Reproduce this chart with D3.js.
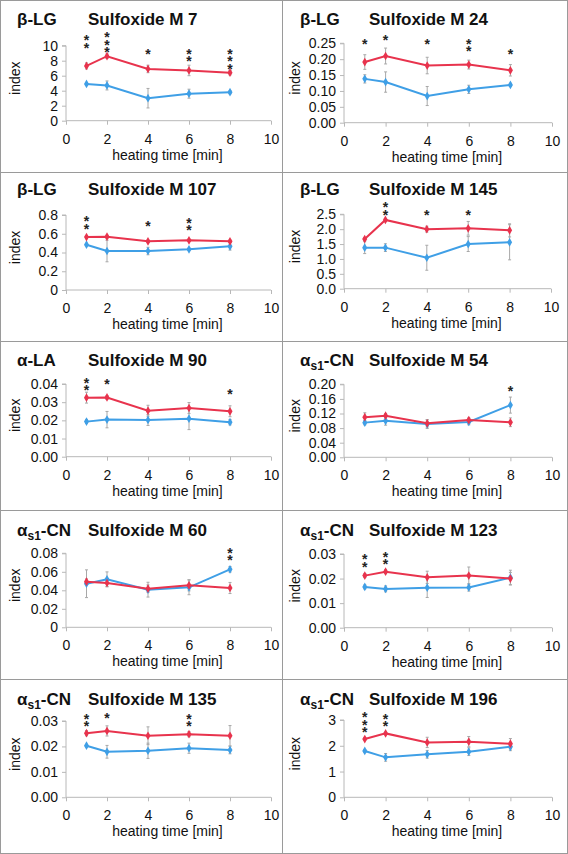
<!DOCTYPE html>
<html><head><meta charset="utf-8">
<script src="https://cdn.jsdelivr.net/npm/d3@7"></script>
<style>
html,body{margin:0;padding:0;background:#fff;}
text{font-family:"Liberation Sans",Arial,sans-serif;}
.stars{writing-mode:vertical-rl;text-orientation:upright;}
</style></head>
<body><svg id="c" width="568" height="854"></svg>
<script>
// ---------- DATA ----------
const times = [1, 2, 4, 6, 8];
const proteins = ["β-LG","β-LG","β-LG","β-LG","α-LA","αs1-CN","αs1-CN","αs1-CN","αs1-CN","αs1-CN"];
const compounds = ["Sulfoxide M 7","Sulfoxide M 24","Sulfoxide M 107","Sulfoxide M 145","Sulfoxide M 90",
  "Sulfoxide M 54","Sulfoxide M 60","Sulfoxide M 123","Sulfoxide M 135","Sulfoxide M 196"];
const yTickLabels = [
  ["0","2","4","6","8","10"],
  ["0.00","0.05","0.10","0.15","0.20","0.25"],
  ["0","0.2","0.4","0.6","0.8"],
  ["0.0","0.5","1.0","1.5","2.0","2.5"],
  ["0.00","0.01","0.02","0.03","0.04"],
  ["0.00","0.04","0.08","0.12","0.16","0.20"],
  ["0","0.02","0.04","0.06","0.08"],
  ["0.00","0.01","0.02","0.03"],
  ["0.00","0.01","0.02","0.03"],
  ["0","1","2","3"]
];
const xTickLabels = ["0","2","4","6","8","10"];
const redValues = [
  [7.3, 8.6, 6.9, 6.7, 6.4],
  [0.191, 0.210, 0.180, 0.183, 0.165],
  [0.565, 0.569, 0.519, 0.530, 0.519],
  [1.67, 2.31, 2.00, 2.03, 1.96],
  [0.0325, 0.0326, 0.0253, 0.0268, 0.0250],
  [0.110, 0.114, 0.093, 0.102, 0.096],
  [0.0493, 0.0479, 0.0418, 0.0454, 0.0425],
  [0.0212, 0.0228, 0.0205, 0.0212, 0.0200],
  [0.0252, 0.0261, 0.0242, 0.0248, 0.0242],
  [2.26, 2.48, 2.13, 2.16, 2.08]
];
const redErrors = [
  [0.4, 0.3, 0.5, 0.7, 0.3],
  [0.023, 0.025, 0.026, 0.014, 0.018],
  [0.015, 0.015, 0.012, 0.012, 0.012],
  [0.05, 0.05, 0.1, 0.23, 0.22],
  [0.003, 0.001, 0.003, 0.003, 0.003],
  [0.012, 0.006, 0.01, 0.006, 0.012],
  [0.003, 0.004, 0.004, 0.006, 0.006],
  [0.0008, 0.0008, 0.0025, 0.0035, 0.0025],
  [0.001, 0.002, 0.0035, 0.001, 0.004],
  [0.05, 0.05, 0.2, 0.2, 0.2]
];
const blueValues = [
  [4.9, 4.7, 3.0, 3.6, 3.8],
  [0.138, 0.128, 0.084, 0.105, 0.119],
  [0.483, 0.416, 0.416, 0.434, 0.466],
  [1.38, 1.38, 1.04, 1.50, 1.56],
  [0.0193, 0.0204, 0.0202, 0.0209, 0.0190],
  [0.095, 0.100, 0.091, 0.097, 0.143],
  [0.0471, 0.0519, 0.0407, 0.0432, 0.0627],
  [0.0166, 0.0158, 0.0163, 0.0164, 0.0204],
  [0.0203, 0.0179, 0.0183, 0.0193, 0.0186],
  [1.80, 1.55, 1.67, 1.77, 1.96]
];
const blueErrors = [
  [0.2, 0.6, 1.3, 0.6, 0.2],
  [0.013, 0.032, 0.030, 0.013, 0.005],
  [0.01, 0.115, 0.04, 0.01, 0.04],
  [0.2, 0.13, 0.42, 0.25, 0.59],
  [0.001, 0.0045, 0.003, 0.006, 0.0015],
  [0.006, 0.012, 0.012, 0.008, 0.022],
  [0.015, 0.008, 0.008, 0.008, 0.003],
  [0.0008, 0.0012, 0.004, 0.0015, 0.003],
  [0.0005, 0.0025, 0.003, 0.002, 0.0015],
  [0.05, 0.15, 0.15, 0.15, 0.15]
];
const starCounts = [
  [2,3,1,2,3],[1,1,1,2,1],[2,0,1,2,0],[0,2,1,1,0],[2,1,0,0,1],
  [0,0,0,0,1],[0,0,0,0,2],[2,2,0,0,0],[2,1,0,2,0],[3,2,0,0,0]
];
// value (in y-units) at which the top star of each stack sits
const starLevels = [
  [11.0, 11.4, 9.2, 9.2, 9.2],
  [0.255, 0.266, 0.255, 0.255, 0.2235],
  [0.757, 0, 0.704, 0.739, 0],
  [0, 2.81, 2.55, 2.55, 0],
  [0.0418, 0.0409, 0, 0, 0.0354],
  [0, 0, 0, 0, 0.187],
  [0, 0, 0, 0, 0.0828],
  [0.0287, 0.0296, 0, 0, 0],
  [0.0317, 0.032, 0, 0.0317, 0],
  [3.19, 3.13, 0, 0, 0]
];

// ---------- LAYOUT ----------
const plotRects = [
  {x0:66,x1:271,top:45.7,bottom:120.7},{x0:344,x1:552,top:43.3,bottom:122.7},
  {x0:66,x1:271,top:215,bottom:290},{x0:344,x1:551,top:214.3,bottom:288.7},
  {x0:66,x1:271,top:384,bottom:456.7},{x0:344,x1:552,top:384.3,bottom:457.3},
  {x0:66,x1:271,top:553.3,bottom:627.3},{x0:344,x1:552,top:554,bottom:627.7},
  {x0:66,x1:271,top:721,bottom:797.3},{x0:344,x1:552,top:720,bottom:797.3}
];
const titleBaselines = [25, 195, 366, 536, 705];
const RED = "#e8334d", BLUE = "#3f9fe6", AXIS = "#b8b8b8", ERR = "#a8a8a8", FRAME = "#9a9a9a";
const STAR_FS = 14;

const svg = d3.select("#c");
svg.append("rect").attr("x",0.5).attr("y",0.5).attr("width",567).attr("height",853)
  .attr("fill","none").attr("stroke",FRAME);
svg.append("line").attr("x1",282.5).attr("x2",282.5).attr("y1",0).attr("y2",854).attr("stroke",FRAME);
[172.5,341.5,510.5,679.5].forEach(y=>{
  svg.append("line").attr("x1",0).attr("x2",568).attr("y1",y).attr("y2",y).attr("stroke",FRAME);
});

for (let p = 0; p < 10; p++) {
  const r = plotRects[p];
  const col = p % 2, row = Math.floor(p / 2);
  const left = col === 0 ? 0 : 283;
  const tickVals = yTickLabels[p].map(Number);
  const x = d3.scaleLinear().domain([0,10]).range([r.x0, r.x1]);
  const y = d3.scaleLinear().domain([0, tickVals[tickVals.length-1]]).range([r.bottom, r.top]);
  const g = svg.append("g");

  // titles
  const tb = titleBaselines[row];
  const pt = g.append("text").attr("x", left + 17).attr("y", tb)
    .attr("font-size",17).attr("font-weight","bold").attr("fill","#111");
  const m = proteins[p].match(/^(α)(s1)(-CN)$/);
  if (m) {
    pt.append("tspan").text(m[1]);
    pt.append("tspan").text(m[2]).attr("font-size",12).attr("dy",4);
    pt.append("tspan").text(m[3]).attr("dy",-4);
  } else pt.text(proteins[p]);
  g.append("text").attr("x", left + (col===0?88:86)).attr("y", tb)
    .attr("font-size",17).attr("font-weight","bold").attr("fill","#111").text(compounds[p]);

  // y axis
  const ya = d3.axisLeft(y).tickValues(tickVals).tickSize(4).tickPadding(4)
    .tickFormat((d,i)=>yTickLabels[p][i]);
  const yg = g.append("g").attr("transform",`translate(${r.x0},0)`).call(ya);
  yg.select(".domain").attr("stroke",AXIS).attr("d",`M-4,${r.top}H0V${r.bottom}`);
  yg.selectAll(".tick line").attr("stroke",AXIS);
  yg.selectAll(".tick text").attr("font-size",14).attr("fill","#111")
    .attr("font-family","'Liberation Sans',Arial,sans-serif");

  // x axis
  const xa = d3.axisBottom(x).tickValues(xTickLabels.map(Number)).tickSize(4).tickPadding(9)
    .tickFormat((d,i)=>xTickLabels[i]);
  const xg = g.append("g").attr("transform",`translate(0,${r.bottom})`).call(xa);
  xg.select(".domain").attr("stroke",AXIS).attr("d",`M${r.x0},0H${r.x1}`);
  xg.selectAll(".tick line").attr("stroke",AXIS);
  xg.selectAll(".tick text").attr("font-size",14).attr("fill","#111")
    .attr("font-family","'Liberation Sans',Arial,sans-serif");

  // axis titles
  g.append("text").attr("x",(r.x0+r.x1)/2 - 1).attr("y", r.bottom + 39)
    .attr("text-anchor","middle").attr("font-size",14).attr("fill","#111").text("heating time [min]");
  const ix = col===0 ? left + 15 : left + 12;
  const iy = (r.top + r.bottom)/2 - 5;
  g.append("text").attr("transform",`translate(${ix + 5},${iy}) rotate(-90)`)
    .attr("text-anchor","middle").attr("font-size",14).attr("fill","#111").text("index");

  // series
  const series = [
    {vals: blueValues[p], errs: blueErrors[p], color: BLUE},
    {vals: redValues[p], errs: redErrors[p], color: RED}
  ];
  series.forEach(s=>{
    times.forEach((t,i)=>{
      const cx = x(t), y1 = y(s.vals[i]+s.errs[i]), y2 = y(s.vals[i]-s.errs[i]);
      g.append("line").attr("x1",cx).attr("x2",cx).attr("y1",y1).attr("y2",y2).attr("stroke",ERR).attr("stroke-width",1);
      [y1,y2].forEach(yy=>g.append("line").attr("x1",cx-1.5).attr("x2",cx+1.5).attr("y1",yy).attr("y2",yy)
        .attr("stroke",ERR).attr("stroke-width",1));
    });
  });
  const line = d3.line().x((d,i)=>x(times[i])).y(d=>y(d));
  series.forEach(s=>{
    g.append("path").attr("d",line(s.vals)).attr("fill","none").attr("stroke",s.color).attr("stroke-width",2);
    g.selectAll(null).data(s.vals).enter().append("path")
      .attr("d",d3.symbol(d3.symbolDiamond, 22)())
      .attr("transform",(d,i)=>`translate(${x(times[i])},${y(d)})`).attr("fill",s.color);
  });

  // significance stars: one vertical text per stack
  times.forEach((t,i)=>{
    const n = starCounts[p][i];
    if (!n) return;
    g.append("text").attr("class","stars")
      .attr("x",x(t)).attr("y",y(starLevels[p][i]) - 6)
      .attr("font-size",STAR_FS).attr("font-weight","bold").attr("fill","#222")
      .attr("letter-spacing", -8.5)
      .text("*".repeat(n));
  });
}
</script></body></html>
